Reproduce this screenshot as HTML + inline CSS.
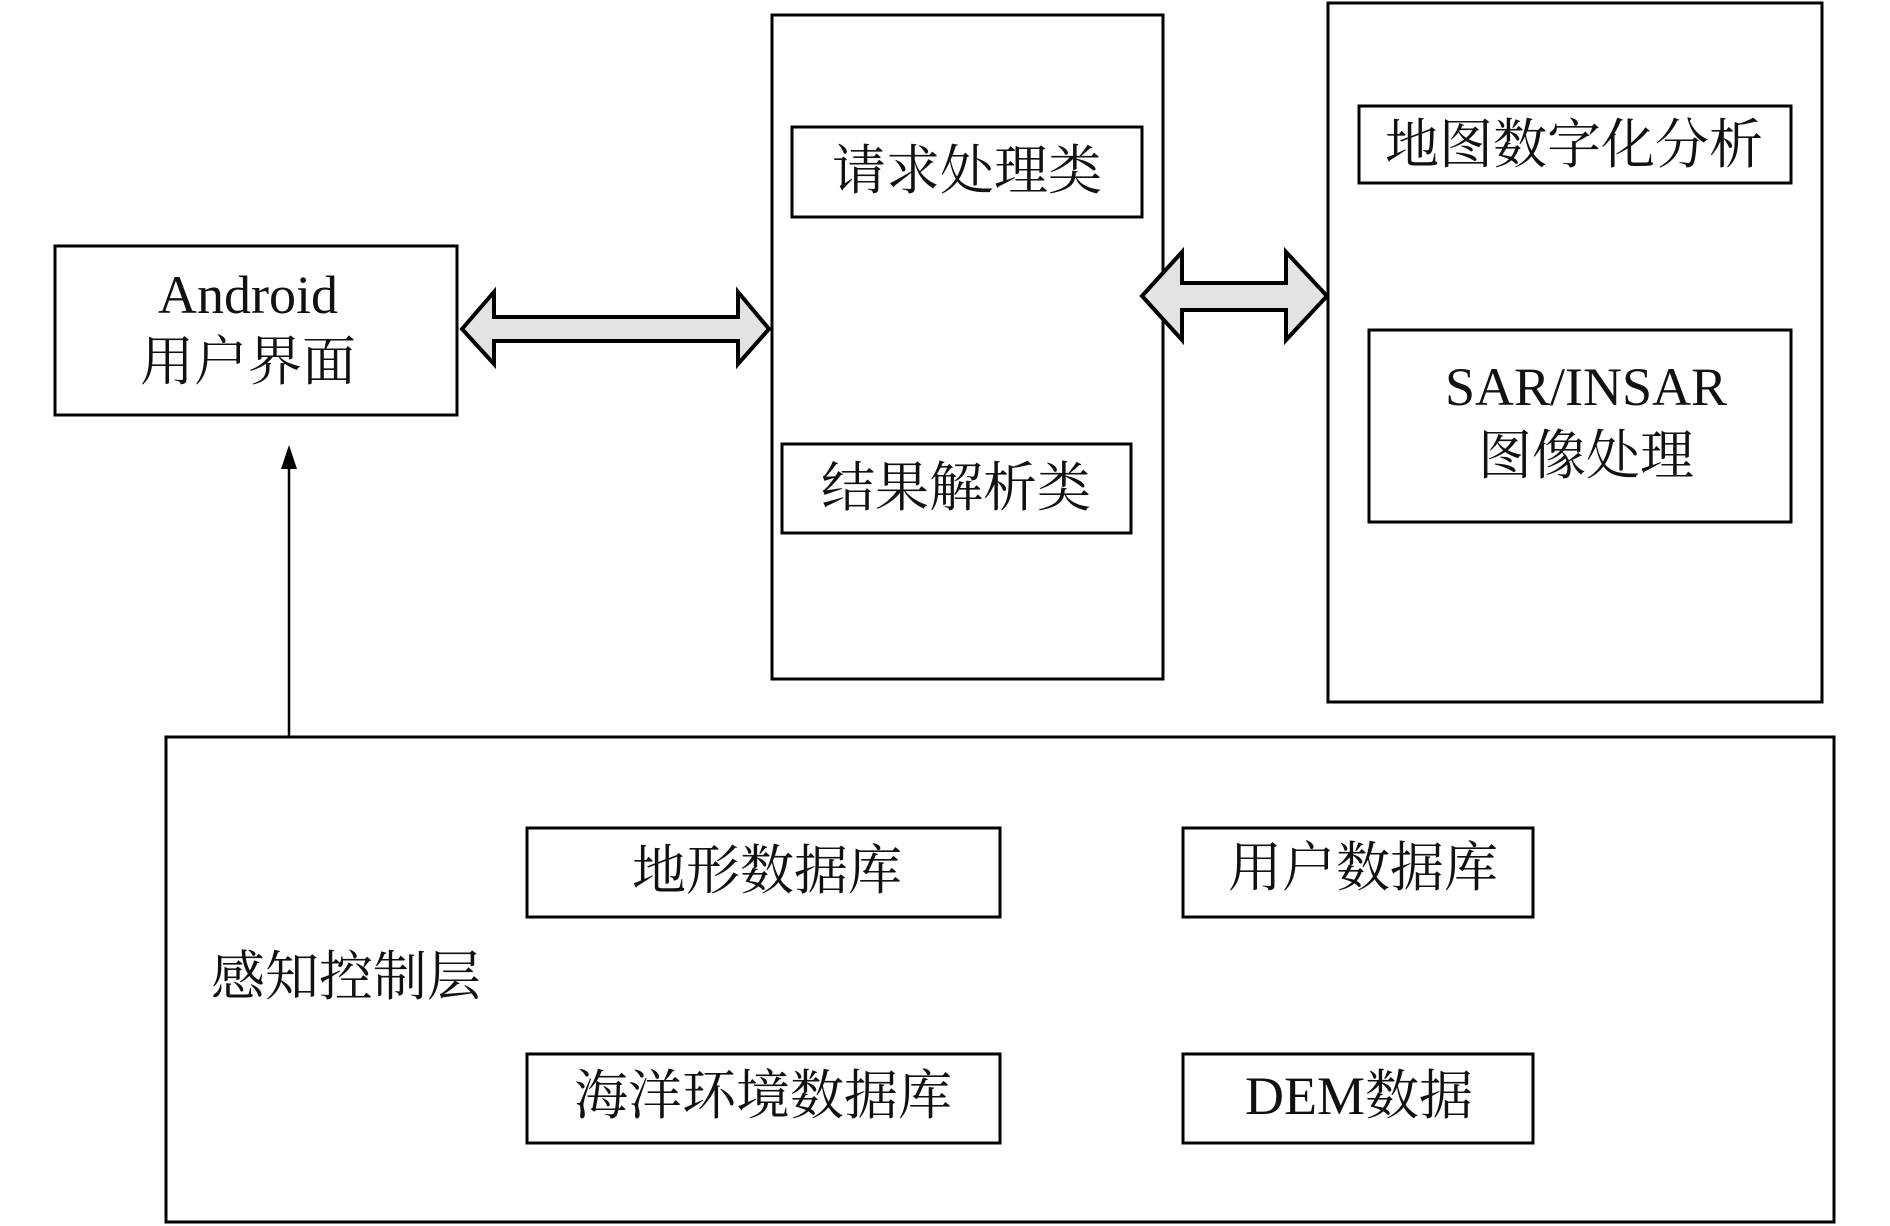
<!DOCTYPE html>
<html><head><meta charset="utf-8"><style>
html,body{margin:0;padding:0;background:#fff;}
svg{display:block;}
text{font-family:"Liberation Serif","Noto Serif CJK SC",serif;fill:#111;}
</style></head><body>
<svg width="1890" height="1226" viewBox="0 0 1890 1226" xmlns="http://www.w3.org/2000/svg">
<defs><marker id="ah" markerWidth="10" markerHeight="12" refX="5" refY="0" orient="auto" markerUnits="userSpaceOnUse"></marker></defs>
<g fill="none" stroke="#000" stroke-width="3">
<rect x="55" y="246" width="402" height="169"/>
<rect x="772" y="15" width="391" height="664"/>
<rect x="792" y="127" width="350" height="90"/>
<rect x="782" y="444" width="349" height="89"/>
<rect x="1328" y="3" width="494" height="699"/>
<rect x="1359" y="106" width="432" height="77"/>
<rect x="1369" y="330" width="422" height="192"/>
<rect x="166" y="737" width="1668" height="485"/>
<rect x="527" y="828" width="473" height="89"/>
<rect x="1183" y="828" width="350" height="89"/>
<rect x="527" y="1054" width="473" height="89"/>
<rect x="1183" y="1054" width="350" height="89"/>
</g>
<!-- double arrows -->
<polygon points="462,329 494,292 494,317 738,317 738,292 769,329 738,364 738,341 494,341 494,364" fill="#e3e3e3" stroke="#000" stroke-width="4" stroke-linejoin="miter"/>
<polygon points="1142,296 1182,252 1182,283 1286,283 1286,252 1327,296 1286,340 1286,310 1182,310 1182,340" fill="#e3e3e3" stroke="#000" stroke-width="4"/>
<!-- up arrow -->
<line x1="289" y1="737" x2="289" y2="465" stroke="#000" stroke-width="2.5"/>
<polygon points="289,445 281,469 297,469" fill="#000"/>
<g font-size="54" text-anchor="middle" dominant-baseline="central">
<text x="248" y="295">Android</text>
<text x="248" y="362">用户界面</text>
<text x="967" y="171">请求处理类</text>
<text x="956" y="488">结果解析类</text>
<text x="1574" y="145">地图数字化分析</text>
<text x="1586" y="387">SAR/INSAR</text>
<text x="1586" y="456">图像处理</text>
<text x="767" y="871">地形数据库</text>
<text x="1363" y="868">用户数据库</text>
<text x="763" y="1096">海洋环境数据库</text>
<text x="1359" y="1096">DEM数据</text>
<text x="346" y="977">感知控制层</text>
</g>
</svg>
</body></html>
